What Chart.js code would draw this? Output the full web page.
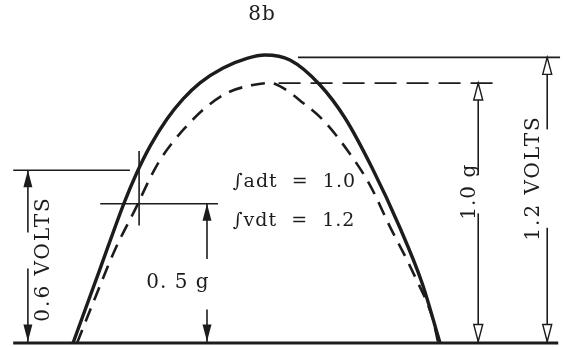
<!DOCTYPE html>
<html><head><meta charset="utf-8">
<script src="https://cdn.jsdelivr.net/npm/chart.js@4"></script>
<style>body{margin:0;background:#fff}canvas{display:block}</style>
</head><body>
<canvas id="c" width="563" height="347"></canvas>
<script>
// time in % of pulse length, amplitude in volts
const tSolid = [0, 7.36, 13.9, 17.2, 21.0, 25.6, 30.0, 34.6, 40.9, 47.4, 52.3, 59.1, 67.3, 74.1, 81.5, 89.1, 95.1, 100];
const vSolid = [0, 0.309, 0.583, 0.703, 0.82, 0.933, 1.017, 1.084, 1.146, 1.186, 1.2, 1.179, 1.075, 0.9375, 0.729, 0.479, 0.25, 0];
const tDashed = [1.09, 6.0, 11.4, 17.4, 21.0, 23.7, 27.0, 30.5, 35.4, 42.0, 49.0, 53.7, 57.2, 62.7, 68.1, 74.7, 80.9, 86.4, 91.0, 94.0, 96.5, 98.1, 99.5];
const vDashed = [0, 0.1875, 0.3875, 0.571, 0.6875, 0.7625, 0.833, 0.896, 0.971, 1.042, 1.075, 1.083, 1.0625, 1.0, 0.929, 0.804, 0.658, 0.483, 0.346, 0.25, 0.167, 0.096, 0];

// dimension levels
const levelLabels = ['0.6 VOLTS', '0. 5 g', '1.0 g', '1.2 VOLTS'];
const levelValues = [0.72, 0.58, 1.083, 1.19];
const integralLabels = ['\u222Badt  =  1.0', '\u222Bvdt  =  1.2'];
const title = '8b';

const pts = (xs, ys) => xs.map((x, i) => ({x: x, y: ys[i]}));
const seg = (x0, y0, x1, y1) => [{x: x0, y: y0}, {x: x1, y: y1}];

function lineSet(data, width, dash) {
    return {
        data: data, showLine: true, pointRadius: 0, borderColor: '#1c1c1c',
        borderWidth: width, borderDash: dash || [], clip: false, tension: 0
    };
}

// arrows: x position, from level down to zero, with a gap for text
const arrows = [
    {x: -12.3, top: levelValues[0], gap: [0.31, 0.46], open: false},
    {x: 36.5, top: levelValues[1], gap: [0.14, 0.35], open: false},
    {x: 110.4, top: levelValues[2], gap: [0.54, 0.70], open: true},
    {x: 129.2, top: levelValues[3], gap: [0.48, 0.89], open: true}
];

const datasets = [
    Object.assign(lineSet(pts(tSolid, vSolid), 3.4), {cubicInterpolationMode: 'monotone'}),
    Object.assign(lineSet(pts(tDashed, vDashed), 2.6, [14, 9]), {cubicInterpolationMode: 'monotone'}),
    lineSet(seg(-16.3, 0, 132.2, 0), 3),
    lineSet(seg(-16.3, levelValues[0], 15.5, levelValues[0]), 1.6),
    lineSet(seg(7.4, levelValues[1], 39.5, levelValues[1]), 1.6),
    lineSet(seg(56, levelValues[2], 115.5, levelValues[2]), 1.8, [22, 10]),
    lineSet(seg(61.3, levelValues[3], 132.7, levelValues[3]), 1.6),
    lineSet(seg(18.0, 0.49, 18.0, 0.80), 1.6)
];
arrows.forEach(function (a) {
    datasets.push(lineSet(seg(a.x, a.gap[1], a.x, a.top), 1.6));
    datasets.push(lineSet(seg(a.x, 0, a.x, a.gap[0]), 1.6));
});

const annotate = {
    id: 'annotate',
    afterDatasetsDraw: function (chart) {
        const ctx = chart.ctx, xs = chart.scales.x, ys = chart.scales.y;
        const px = v => xs.getPixelForValue(v), py = v => ys.getPixelForValue(v);
        ctx.save();
        ctx.fillStyle = '#1c1c1c';
        ctx.strokeStyle = '#1c1c1c';
        ctx.lineWidth = 1.4;

        function head(x, y, dir, open) {
            ctx.beginPath();
            ctx.moveTo(x, y);
            ctx.lineTo(x - 4.5, y + dir * 17);
            ctx.lineTo(x + 4.5, y + dir * 17);
            ctx.closePath();
            if (open) { ctx.fillStyle = '#fff'; ctx.fill(); ctx.stroke(); ctx.fillStyle = '#1c1c1c'; }
            else ctx.fill();
        }
        arrows.forEach(function (a) {
            head(px(a.x), py(a.top), 1, a.open);
            head(px(a.x), py(0) - 1.5, -1, a.open);
        });

        function text(s, t, v, rot, align, spacing) {
            ctx.save();
            ctx.letterSpacing = spacing || '0px';
            ctx.translate(px(t), py(v));
            if (rot) ctx.rotate(-Math.PI / 2);
            ctx.textAlign = align || 'center';
            ctx.textBaseline = 'middle';
            ctx.fillText(s, 0, 0);
            ctx.restore();
        }
        ctx.font = '20px "DejaVu Serif"';
        text(levelLabels[0], -7.9, 0.35, true, 'center', '2px');
        text(levelLabels[1], 28.6, 0.25, false, 'center', '1px');
        text(levelLabels[2], 108.2, 0.63, true, 'center', '1px');
        text(levelLabels[3], 125.6, 0.6875, true, 'center', '2px');
        ctx.font = '19px "DejaVu Serif"';
        text(integralLabels[0], 43.5, 0.67, false, 'left', '1px');
        text(integralLabels[1], 43.5, 0.51, false, 'left', '1px');
        ctx.font = '20px "DejaVu Serif"';
        text(title, 51.5, 1.367, false, 'center', '1px');
        ctx.restore();
    }
};

new Chart(document.getElementById('c'), {
    type: 'scatter',
    data: {datasets: datasets},
    options: {
        responsive: false,
        animation: false,
        layout: {padding: 0},
        plugins: {legend: {display: false}, tooltip: {enabled: false}},
        scales: {
            x: {type: 'linear', display: false, min: -19.9, max: 133.5},
            y: {type: 'linear', display: false, min: -0.0167, max: 1.429}
        }
    },
    plugins: [annotate]
});
</script>
</body></html>
